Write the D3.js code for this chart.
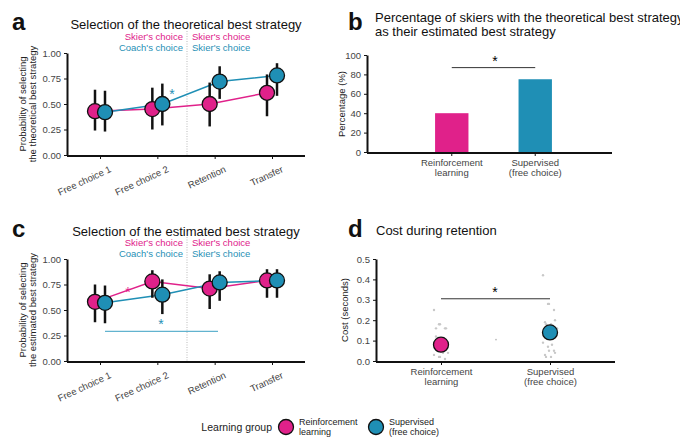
<!DOCTYPE html>
<html>
<head>
<meta charset="utf-8">
<script src="https://cdn.jsdelivr.net/npm/d3@7"></script>
<style>
body { margin: 0; background: #fff; }
text { font-family: "Liberation Sans", Arial, sans-serif; }
</style>
</head>
<body>
<script>
var w = 680, h = 440;
var pink = "#e0218a", blue = "#1f8fb5";

// data
var phases = ["Free choice 1", "Free choice 2", "Retention", "Transfer"];
var theoRL = [0.43, 0.45, 0.50, 0.61];
var theoRLlo = [0.24, 0.25, 0.28, 0.38];
var theoRLhi = [0.64, 0.66, 0.71, 0.79];
var theoSup = [0.42, 0.50, 0.72, 0.78];
var theoSuplo = [0.23, 0.29, 0.55, 0.58];
var theoSuphi = [0.63, 0.70, 0.87, 0.90];
var estRL = [0.58, 0.78, 0.71, 0.79];
var estRLlo = [0.38, 0.62, 0.51, 0.62];
var estRLhi = [0.75, 0.89, 0.85, 0.90];
var estSup = [0.57, 0.65, 0.77, 0.79];
var estSuplo = [0.37, 0.46, 0.59, 0.62];
var estSuphi = [0.74, 0.80, 0.88, 0.90];
var groups = ["Reinforcement\nlearning", "Supervised\n(free choice)"];
var pctBest = [40, 75];
var costMean = [0.08, 0.14];
var costLo = [0.05, 0.12];
var costHi = [0.11, 0.17];
var costRLpts = [0.25, 0.18, 0.18, 0.16, 0.16, 0.16, 0.05, 0.05, 0.04, 0.04, 0.03, 0.02, 0.02, 0.01, 0.06, 0.12];
var costSuppts = [0.42, 0.28, 0.28, 0.25, 0.20, 0.19, 0.18, 0.18, 0.16, 0.16, 0.09, 0.07, 0.05, 0.05, 0.04, 0.03, 0.02, 0.02, 0.08];
var probTicks = [0, 0.25, 0.5, 0.75, 1];

var svg = d3.select("body").append("svg").attr("width", w).attr("height", h);

function label(x, y, t) {
	svg.append("text").text(t).attr("x", x).attr("y", y)
		.attr("font-size", 24).attr("font-weight", "bold").attr("fill", "#111");
}
function title(x, y, t, anchor) {
	svg.append("text").text(t).attr("x", x).attr("y", y)
		.attr("font-size", 13).attr("text-anchor", anchor || "middle").attr("fill", "#111");
}
function styleAxis(g) {
	g.selectAll(".domain").attr("stroke", "#111").attr("stroke-width", 2);
	g.selectAll(".tick line").attr("stroke", "#111");
	g.selectAll(".tick text").attr("fill", "#444").attr("font-size", 9.5);
}

function linePanel(top, bottom, rl, rllo, rlhi, sp, splo, sphi, ylab1, ylab2) {
	var x = d3.scalePoint().domain(phases).range([100, 272]);
	var y = d3.scaleLinear().domain([0, 1]).range([bottom, top]);
	var gy = svg.append("g").attr("transform", "translate(67,0)")
		.call(d3.axisLeft(y).tickValues(probTicks).tickFormat(d3.format(".2f")).tickSize(3).tickSizeOuter(0));
	styleAxis(gy);
	var gx = svg.append("g").attr("transform", "translate(0," + (bottom + 1) + ")")
		.call(d3.axisBottom(x).tickSize(3).tickSizeOuter(0));
	gx.select(".domain").attr("d", "M67,0H305");
	styleAxis(gx);
	gx.selectAll(".tick text").attr("text-anchor", "end")
		.attr("transform", "translate(6,4) rotate(-25)");
	svg.append("line").attr("x1", 187).attr("x2", 187).attr("y1", top - 22).attr("y2", bottom)
		.attr("stroke", "#bbb").attr("stroke-dasharray", "1,1.5");
	svg.append("text").attr("transform", "translate(26," + (top + bottom) / 2 + ") rotate(-90)")
		.attr("text-anchor", "middle").attr("font-size", 9.5).attr("fill", "#222")
		.selectAll("tspan").data([ylab1, ylab2]).join("tspan")
		.attr("x", 0).attr("dy", function(d, i) { return i ? 10 : 0; }).text(function(d) { return d; });
	var series = [[rl, rllo, rlhi, pink, -5], [sp, splo, sphi, blue, 5]];
	series.forEach(function(s) {
		var line = d3.line().x(function(d, i) { return x(phases[i]) + s[4]; }).y(function(d) { return y(d); });
		svg.append("path").attr("d", line(s[0])).attr("fill", "none").attr("stroke", s[3]).attr("stroke-width", 1.5);
	});
	series.forEach(function(s) {
		var g = svg.append("g");
		g.selectAll("line").data(s[0]).join("line")
			.attr("x1", function(d, i) { return x(phases[i]) + s[4]; })
			.attr("x2", function(d, i) { return x(phases[i]) + s[4]; })
			.attr("y1", function(d, i) { return y(s[1][i]); })
			.attr("y2", function(d, i) { return y(s[2][i]); })
			.attr("stroke", "#111").attr("stroke-width", 2.5);
		g.selectAll("circle").data(s[0]).join("circle")
			.attr("cx", function(d, i) { return x(phases[i]) + s[4]; })
			.attr("cy", function(d) { return y(d); })
			.attr("r", 7.5).attr("fill", s[3]).attr("stroke", "#111").attr("stroke-width", 1.3);
	});
	var ly = top - 13;
	[["Skier's choice", pink, 183, "end", ly], ["Coach's choice", blue, 183, "end", ly + 11],
	 ["Skier's choice", pink, 192, "start", ly], ["Skier's choice", blue, 192, "start", ly + 11]].forEach(function(t) {
		svg.append("text").text(t[0]).attr("x", t[2]).attr("y", t[4]).attr("text-anchor", t[3])
			.attr("font-size", 9.5).attr("fill", t[1]);
	});
	return {x: x, y: y};
}

// panel a
label(12, 30, "a");
title(186, 29, "Selection of the theoretical best strategy");
var pa = linePanel(53, 155, theoRL, theoRLlo, theoRLhi, theoSup, theoSuplo, theoSuphi,
	"Probability of selecting", "the theoretical best strategy");
svg.append("text").text("*").attr("x", 172).attr("y", pa.y(0.55)).attr("text-anchor", "middle")
	.attr("font-size", 14).attr("fill", blue);

// panel c
label(12, 237, "c");
title(186, 236, "Selection of the estimated best strategy");
var pc = linePanel(259, 361, estRL, estRLlo, estRLhi, estSup, estSuplo, estSuphi,
	"Probability of selecting", "the estimated best strategy");
svg.append("text").text("*").attr("x", 128).attr("y", pc.y(0.63)).attr("text-anchor", "middle")
	.attr("font-size", 14).attr("fill", pink);
svg.append("line").attr("x1", 105).attr("x2", 218).attr("y1", pc.y(0.29)).attr("y2", pc.y(0.29))
	.attr("stroke", "#62b3cf").attr("stroke-width", 1.2);
svg.append("text").text("*").attr("x", 161).attr("y", pc.y(0.31)).attr("text-anchor", "middle")
	.attr("font-size", 14).attr("fill", blue);

function groupAxis(g) {
	g.selectAll(".tick text").each(function(d) {
		var t = d3.select(this); t.text(null);
		d.split("\n").forEach(function(p, i) {
			t.append("tspan").attr("x", 0).attr("dy", i ? "1.1em" : "0.71em").text(p);
		});
	});
}

// panel b
label(348, 30, "b");
title(375, 22, "Percentage of skiers with the theoretical best strategy", "start");
title(375, 36, "as their estimated best strategy", "start");
var xb = d3.scaleBand().domain(groups).range([385, 602]).padding(0.6);
var yb = d3.scaleLinear().domain([0, 100]).range([152, 55]);
var gyb = svg.append("g").attr("transform", "translate(367,0)")
	.call(d3.axisLeft(yb).ticks(4).tickSize(3).tickSizeOuter(0));
styleAxis(gyb);
var gxb = svg.append("g").attr("transform", "translate(0,153)")
	.call(d3.axisBottom(xb).tickSize(3).tickSizeOuter(0));
gxb.select(".domain").attr("d", "M367,0H612");
styleAxis(gxb); groupAxis(gxb);
svg.append("g").selectAll("rect").data(pctBest).join("rect")
	.attr("x", function(d, i) { return xb(groups[i]); }).attr("width", xb.bandwidth())
	.attr("y", function(d) { return yb(d); }).attr("height", function(d) { return 152 - yb(d); })
	.attr("fill", function(d, i) { return i ? blue : pink; });
svg.append("text").attr("transform", "translate(345,104) rotate(-90)").attr("text-anchor", "middle")
	.attr("font-size", 9.5).attr("fill", "#222").text("Percentage (%)");
svg.append("line").attr("x1", xb(groups[0]) + xb.bandwidth() / 2).attr("x2", xb(groups[1]) + xb.bandwidth() / 2)
	.attr("y1", yb(87)).attr("y2", yb(87)).attr("stroke", "#333");
svg.append("text").text("*").attr("x", 495).attr("y", yb(89)).attr("text-anchor", "middle").attr("font-size", 14);

// panel d
label(348, 237, "d");
title(376, 235, "Cost during retention", "start");
var xd = d3.scalePoint().domain(groups).range([441, 550]);
var yd = d3.scaleLinear().domain([0, 0.5]).range([361, 259]);
var gyd = svg.append("g").attr("transform", "translate(376,0)")
	.call(d3.axisLeft(yd).ticks(5).tickSize(3).tickSizeOuter(0));
styleAxis(gyd);
var gxd = svg.append("g").attr("transform", "translate(0,362)")
	.call(d3.axisBottom(xd).tickSize(3).tickSizeOuter(0));
gxd.select(".domain").attr("d", "M376,0H615");
styleAxis(gxd); groupAxis(gxd);
svg.append("text").attr("transform", "translate(348,310) rotate(-90)").attr("text-anchor", "middle")
	.attr("font-size", 9.5).attr("fill", "#222").text("Cost (seconds)");
[costRLpts, costSuppts].forEach(function(pts, gi) {
	var cx = xd(groups[gi]);
	svg.append("g").selectAll("circle").data(pts).join("circle")
		.attr("cx", function(d, i) { return cx + ((i % 5) - 2) * 3 + (i % 2 ? 1 : -1); })
		.attr("cy", function(d) { return yd(d); })
		.attr("r", 1.2).attr("fill", "#c8c8c8");
});
svg.append("circle").attr("cx", 496).attr("cy", yd(0.105)).attr("r", 0.9).attr("fill", "#bbb");
svg.append("line").attr("x1", 441).attr("x2", 550).attr("y1", yd(0.305)).attr("y2", yd(0.305)).attr("stroke", "#333");
svg.append("text").text("*").attr("x", 495).attr("y", yd(0.315)).attr("text-anchor", "middle").attr("font-size", 14);
costMean.forEach(function(m, i) {
	var cx = xd(groups[i]);
	svg.append("line").attr("x1", cx).attr("x2", cx).attr("y1", yd(costLo[i])).attr("y2", yd(costHi[i]))
		.attr("stroke", "#111").attr("stroke-width", 2.5);
	svg.append("circle").attr("cx", cx).attr("cy", yd(m)).attr("r", 7.5)
		.attr("fill", i ? blue : pink).attr("stroke", "#111").attr("stroke-width", 1.3);
});

// legend
var lg = svg.append("g").attr("transform", "translate(0,427)");
lg.append("text").text("Learning group").attr("x", 272).attr("y", 4).attr("text-anchor", "end")
	.attr("font-size", 10.5).attr("fill", "#222");
[[286, pink, "Reinforcement", "learning"], [376, blue, "Supervised", "(free choice)"]].forEach(function(l) {
	lg.append("circle").attr("cx", l[0]).attr("cy", 0).attr("r", 7.5).attr("fill", l[1])
		.attr("stroke", "#111").attr("stroke-width", 1.3);
	lg.append("text").text(l[2]).attr("x", l[0] + 13).attr("y", -2).attr("font-size", 9).attr("fill", "#222");
	lg.append("text").text(l[3]).attr("x", l[0] + 13).attr("y", 8).attr("font-size", 9).attr("fill", "#222");
});
</script>
</body>
</html>
